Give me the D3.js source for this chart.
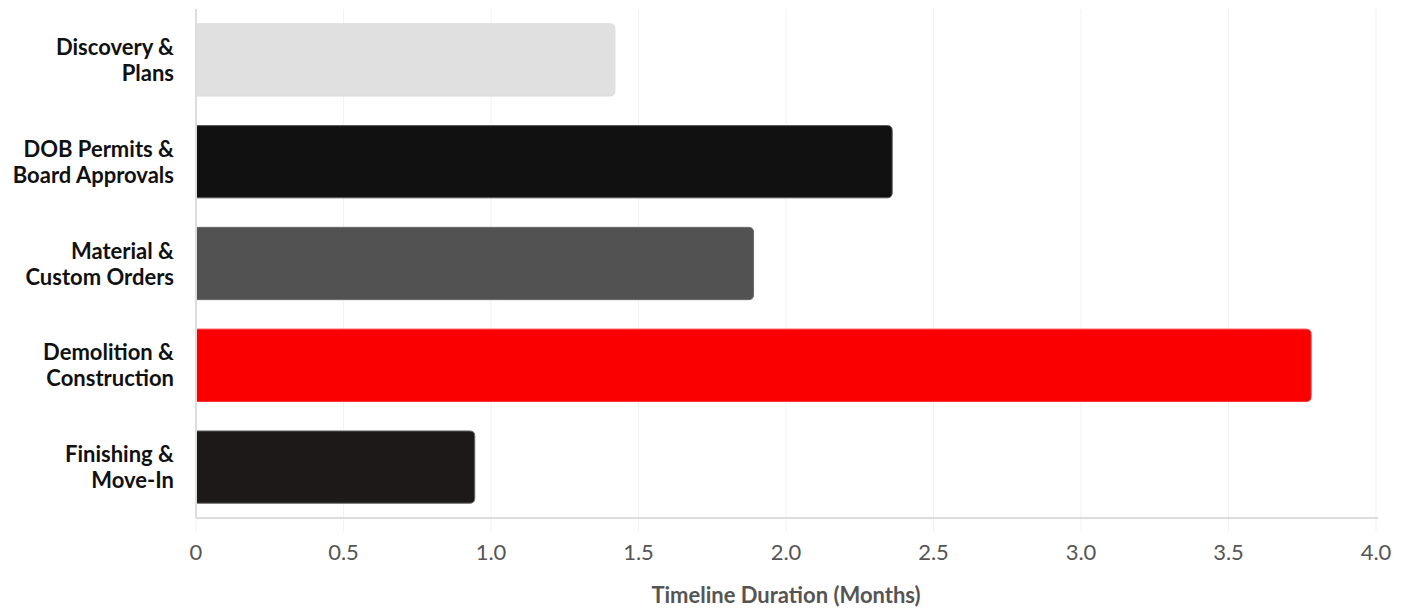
<!DOCTYPE html>
<html>
<head>
<meta charset="utf-8">
<script src="https://cdn.jsdelivr.net/npm/d3@7"></script>
<style>
  html, body { margin: 0; padding: 0; background: #fff; }
  svg { display: block; font-family: Lato, "Open Sans", sans-serif; }
</style>
</head>
<body>
<svg id="chart" width="1411" height="613"></svg>
<script>
const categories = [
  ["Discovery &", "Plans"],
  ["DOB Permits &", "Board Approvals"],
  ["Material &", "Custom Orders"],
  ["Demolition &", "Construction"],
  ["Finishing &", "Move-In"]
];
const durations = [1.42, 2.36, 1.89, 3.78, 0.945];
const xTicks = [0, 0.5, 1.0, 1.5, 2.0, 2.5, 3.0, 3.5, 4.0];
const xTickLabels = ["0", "0.5", "1.0", "1.5", "2.0", "2.5", "3.0", "3.5", "4.0"];
const axisTitle = "Timeline Duration (Months)";

const barFills = ["#e0e0e0", "#111111", "#525252", "#fa0000", "#1c1918"];
const barStrokes = ["#dcdcdc", "#5a5a5a", "#6a6a6a", "#ff3030", "#6a6a6a"];

const svg = d3.select("#chart");
const m = { left: 196, right: 1376, top: 9, bottom: 518 };

const x = d3.scaleLinear().domain([0, 4]).range([m.left, m.right]);
const ids = categories.map((c, i) => i);
const y = d3.scaleBand().domain(ids).range([m.top, m.bottom]).paddingInner(0.28).paddingOuter(0.14);

// grid lines
svg.append("g").selectAll("line").data(xTicks).join("line")
  .attr("x1", d => x(d)).attr("x2", d => x(d))
  .attr("y1", m.top).attr("y2", m.bottom + 14)
  .attr("stroke", "#f2f2f2").attr("stroke-width", 1);

// bars with rounded right end
const r = 5;
function barPath(x0, x1, y0, h) {
  const rr = Math.min(r, (x1 - x0) / 2);
  return `M${x0},${y0}H${x1 - rr}Q${x1},${y0} ${x1},${y0 + rr}V${y0 + h - rr}Q${x1},${y0 + h} ${x1 - rr},${y0 + h}H${x0}Z`;
}
svg.append("g").selectAll("path").data(durations).join("path")
  .attr("d", (d, i) => barPath(x(0), x(d), y(i) + 0.5, y.bandwidth() - 1))
  .attr("fill", (d, i) => barFills[i])
  .attr("stroke", (d, i) => barStrokes[i])
  .attr("stroke-width", 1);

// axis lines
svg.append("line").attr("x1", m.left).attr("x2", m.left)
  .attr("y1", m.top).attr("y2", m.bottom)
  .attr("stroke", "#dddddd").attr("stroke-width", 2);
svg.append("line").attr("x1", m.left).attr("x2", m.right + 2)
  .attr("y1", m.bottom).attr("y2", m.bottom)
  .attr("stroke", "#dddddd").attr("stroke-width", 2);

// x tick labels
svg.append("g").selectAll("text").data(xTicks).join("text")
  .attr("x", d => x(d)).attr("y", 560)
  .attr("text-anchor", "middle")
  .attr("font-size", 22).attr("fill", "#555555")
  .text((d, i) => xTickLabels[i]);

// axis title
svg.append("text")
  .attr("x", (m.left + m.right) / 2).attr("y", 603)
  .attr("text-anchor", "middle")
  .attr("font-size", 22).attr("font-weight", "bold").attr("fill", "#555555")
  .text(axisTitle);

// y labels
const yl = svg.append("g").selectAll("text").data(categories).join("text")
  .attr("text-anchor", "end")
  .attr("font-size", 22).attr("font-weight", "bold").attr("fill", "#111111");
yl.each(function (lines, i) {
  const cy = y(i) + y.bandwidth() / 2;
  d3.select(this).selectAll("tspan").data(lines).join("tspan")
    .attr("x", 174)
    .attr("y", (l, j) => cy - 13 + j * 26 + 8)
    .text(l => l);
});
</script>
</body>
</html>
